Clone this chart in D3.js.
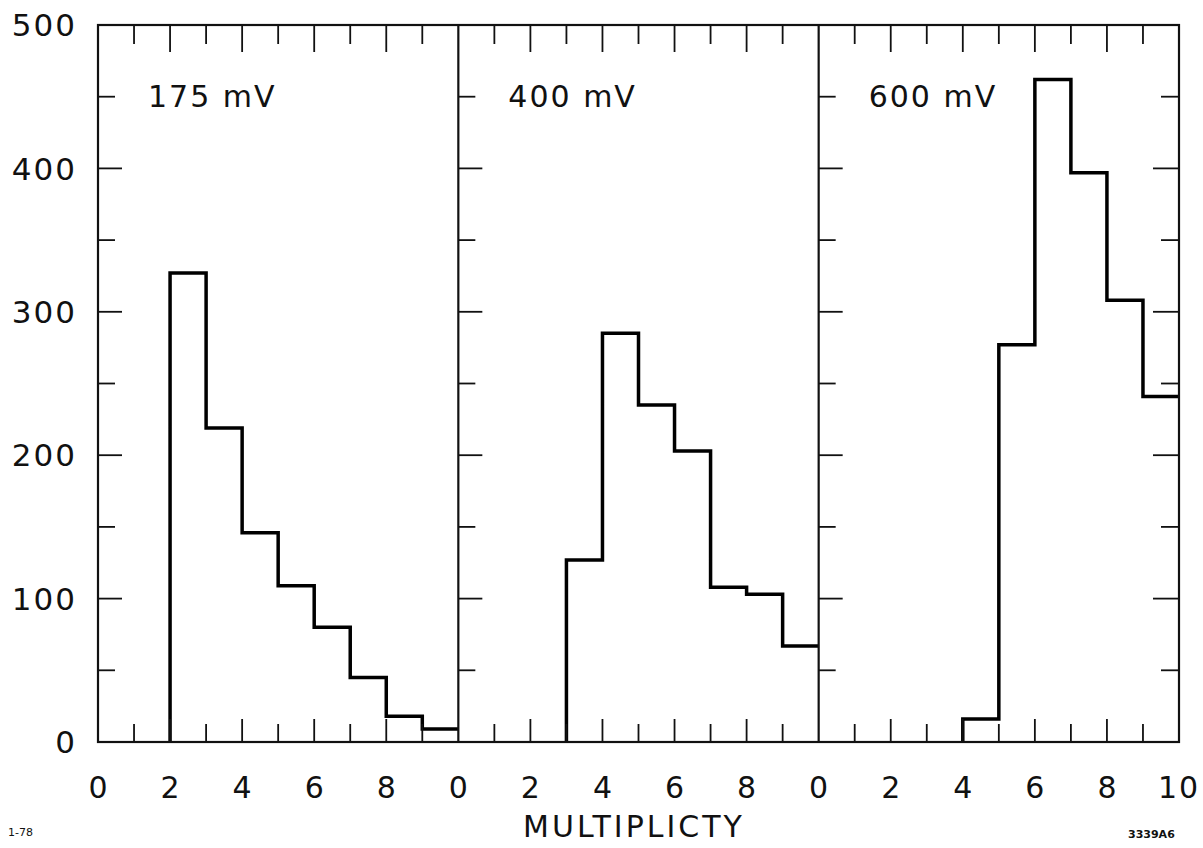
<!DOCTYPE html>
<html lang="en">
<head>
    <meta charset="UTF-8">
    <title>Multiplicity</title>
    <script src="https://cdn.jsdelivr.net/npm/d3@7"></script>
    <style>
        body { margin: 0; background: #fff; }
        text { font-family: "DejaVu Sans", sans-serif; fill: #111; }
        .frame { fill: none; stroke: #111; stroke-width: 2.2px; }
        .tick { stroke: #111; stroke-width: 1.8px; }
        .hist { fill: none; stroke: #000; stroke-width: 3.5px; stroke-linejoin: miter; }
    </style>
</head>
<body>
    <div id="chart"></div>
    <script>
        // data: counts per multiplicity bin, one panel per threshold
        const panelTitles = ["175 mV", "400 mV", "600 mV"];
        const firstBin = [2, 3, 4];
        const counts175 = [327, 219, 146, 109, 80, 45, 18, 9];
        const counts400 = [127, 285, 235, 203, 108, 103, 67];
        const counts600 = [16, 277, 462, 397, 308, 241];
        const yTickLabels = [0, 100, 200, 300, 400, 500];
        const xTickLabels = [0, 2, 4, 6, 8];
        const xLabel = "MULTIPLICTY";

        const panels = [counts175, counts400, counts600];

        const W = 1203, H = 848;
        const m = { left: 98, right: 1179, top: 25, bottom: 742 };
        const pw = (m.right - m.left) / 3;

        const svg = d3.select("#chart").append("svg")
            .attr("width", W).attr("height", H);

        const y = d3.scaleLinear().domain([0, 500]).range([m.bottom, m.top]);
        const xs = panels.map((d, i) => d3.scaleLinear()
            .domain([0, 10]).range([m.left + i * pw, m.left + (i + 1) * pw]));

        // histograms as step outlines
        const line = d3.line().x(d => d[0]).y(d => d[1]);
        panels.forEach((counts, i) => {
            const x = xs[i];
            const s = firstBin[i];
            const pts = [[x(s), y(0)]];
            counts.forEach((v, j) => {
                pts.push([x(s + j), y(v)]);
                pts.push([x(s + j + 1), y(v)]);
            });
            svg.append("path").classed("hist", true).attr("d", line(pts));
        });

        // ticks
        const g = svg.append("g");
        const ints = d3.range(1, 10);
        const yMinor = d3.range(50, 500, 50);
        xs.forEach((x, i) => {
            ints.forEach(t => {
                g.append("line").classed("tick", true)
                    .attr("x1", x(t)).attr("x2", x(t))
                    .attr("y1", y(500)).attr("y2", y(500) + (t % 2 === 0 ? 27 : 19));
                g.append("line").classed("tick", true)
                    .attr("x1", x(t)).attr("x2", x(t))
                    .attr("y1", y(0)).attr("y2", y(0) - (t % 2 === 0 ? 23 : 18));
            });
            yMinor.forEach(v => {
                g.append("line").classed("tick", true)
                    .attr("x1", x(0)).attr("x2", x(0) + (v % 100 === 0 ? 24 : 17))
                    .attr("y1", y(v)).attr("y2", y(v));
            });
        });
        yMinor.forEach(v => {
            g.append("line").classed("tick", true)
                .attr("x1", xs[2](10)).attr("x2", xs[2](10) - (v % 100 === 0 ? 26 : 18))
                .attr("y1", y(v)).attr("y2", y(v));
        });

        // frame and panel dividers
        svg.append("rect").classed("frame", true)
            .attr("x", m.left).attr("y", m.top)
            .attr("width", m.right - m.left).attr("height", m.bottom - m.top);
        [1, 2].forEach(i => {
            svg.append("line").classed("frame", true)
                .attr("x1", xs[i](0)).attr("x2", xs[i](0))
                .attr("y1", m.top).attr("y2", m.bottom);
        });

        // y labels
        svg.selectAll(".ylab").data(yTickLabels).join("text")
            .attr("class", "ylab")
            .attr("x", 77).attr("y", d => y(d))
            .attr("dy", "0.36em")
            .attr("text-anchor", "end")
            .style("font-size", "31px")
            .style("letter-spacing", "2px")
            .text(d => d);

        // x labels
        xs.forEach((x, i) => {
            const labs = i === 2 ? xTickLabels.concat([10]) : xTickLabels;
            labs.forEach(t => {
                svg.append("text")
                    .attr("x", x(t)).attr("y", 798)
                    .attr("text-anchor", "middle")
                    .style("font-size", "30px")
                    .style("letter-spacing", t === 10 ? "2px" : "0px")
                    .text(t);
            });
            svg.append("text")
                .attr("x", x(0) + 50).attr("y", 107)
                .style("font-size", "30px")
                .style("letter-spacing", "2px")
                .text(panelTitles[i]);
        });

        svg.append("text")
            .attr("x", 634).attr("y", 837)
            .attr("text-anchor", "middle")
            .style("font-size", "30px")
            .style("letter-spacing", "3px")
            .text(xLabel);

        svg.append("text")
            .attr("x", 8).attr("y", 836)
            .style("font-size", "11px")
            .text("1-78");

        svg.append("text")
            .attr("x", 1128).attr("y", 838)
            .style("font-size", "11px")
            .style("font-weight", "bold")
            .text("3339A6");
    </script>
</body>
</html>
